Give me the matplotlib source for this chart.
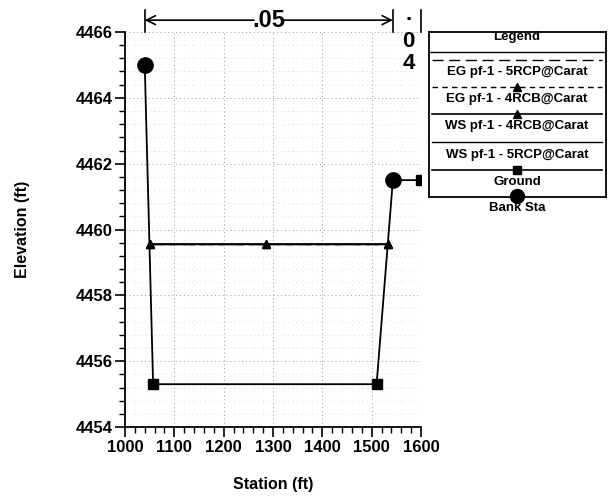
import matplotlib
matplotlib.use('Agg')
import matplotlib.pyplot as plt
import matplotlib.transforms as mtransforms

plt.rcParams['font.family'] = ['Liberation Sans', 'DejaVu Sans']
plt.rcParams['font.weight'] = 'bold'

# cross section data
ground_sta = [1040, 1057, 1510, 1543, 1600]
ground_elev = [4465.0, 4455.3, 4455.3, 4461.5, 4461.5]

bank_sta = [1040, 1543]
bank_elev = [4465.0, 4461.5]

ws_sta = [1051, 1286, 1534]
ws_4rcb = [4459.55, 4459.55, 4459.55]
ws_5rcp = [4459.55, 4459.55, 4459.55]
eg_4rcb = [4459.55, 4459.55, 4459.55]
eg_5rcp = [4459.55, 4459.55, 4459.55]

n_labels = ['.05', '.04']
n_breaks = [1040, 1543, 1600]

legend_labels = ['EG pf-1 - 5RCP@Carat', 'EG pf-1 - 4RCB@Carat', 'WS pf-1 - 4RCB@Carat',
                 'WS pf-1 - 5RCP@Carat', 'Ground', 'Bank Sta']

fig = plt.figure(figsize=(6.09, 5.04), dpi=100)
ax = fig.add_axes([125 / 609, 77 / 504, 296 / 609, 395 / 504])

ax.plot(ws_sta, eg_5rcp, color='black', lw=1.0, ls=(0, (8, 4)))
ax.plot(ws_sta, eg_4rcb, color='black', lw=1.0, ls=(0, (4, 3)), marker='^', ms=6)
ax.plot(ws_sta, ws_4rcb, color='black', lw=1.2, marker='^', ms=6)
ax.plot(ws_sta, ws_5rcp, color='black', lw=1.0)
ax.plot(ground_sta, ground_elev, color='black', lw=1.3, marker='s', ms=7)
ax.plot(bank_sta, bank_elev, ls='none', color='black', marker='o', ms=11)

ax.set_xlim(1000, 1600)
ax.set_ylim(4454, 4466)
ax.set_xticks(range(1000, 1601, 100))
ax.set_xticks(range(1000, 1601, 20), minor=True)
ax.set_yticks(range(4454, 4467, 2))
ax.set_yticks([4454 + 0.4 * i for i in range(31)], minor=True)
ax.tick_params(which='major', direction='out', length=7, width=1.2, labelsize=12, pad=2)
ax.tick_params(which='minor', direction='out', length=4, width=1.0)
for lab in ax.get_xticklabels() + ax.get_yticklabels():
    lab.set_fontweight('bold')

ax.grid(which='major', ls=(0, (1, 3)), lw=0.7, color='#999999')
ax.grid(which='minor', axis='y', ls=(0, (1, 5)), lw=0.5, color='#bbbbbb')
ax.grid(which='minor', axis='x', ls=(0, (1, 7)), lw=0.4, color='#cccccc')
ax.spines['top'].set_visible(False)
ax.spines['right'].set_visible(False)
ax.spines['left'].set_linewidth(1.3)
ax.spines['bottom'].set_linewidth(1.3)

ax.set_xlabel('Station (ft)', fontsize=11.5, fontweight='bold', labelpad=16)
ax.set_ylabel('Elevation (ft)', fontsize=11.5, fontweight='bold', labelpad=33)

# Manning's n annotation above the plot
trans = mtransforms.blended_transform_factory(ax.transData, ax.transAxes)
for x in n_breaks:
    ax.plot([x, x], [1.0, 1.055], color='black', lw=1.2, transform=trans, clip_on=False)
mid = (n_breaks[0] + n_breaks[1]) / 2
ax.text(mid, 1.03, n_labels[0], transform=trans, ha='center', va='center',
        fontsize=17, fontweight='bold')
arrow = dict(arrowstyle='->', lw=1.2, color='black', mutation_scale=16, shrinkA=0, shrinkB=0)
ax.annotate('', xy=(n_breaks[0], 1.03), xytext=(mid - 30, 1.03), xycoords=trans,
            textcoords=trans, arrowprops=arrow)
ax.annotate('', xy=(n_breaks[1], 1.03), xytext=(mid + 30, 1.03), xycoords=trans,
            textcoords=trans, arrowprops=arrow)
mid2 = (n_breaks[1] + n_breaks[2]) / 2 + 3
for ch, yy in zip(n_labels[1], [1.045, 0.975, 0.92]):
    ax.text(mid2, yy, ch, transform=trans, ha='center', va='center',
            fontsize=16, fontweight='bold')

# legend drawn as a separate box
lax = fig.add_axes([429 / 609, (504 - 197) / 504, 177 / 609, 165 / 504])
lax.set_xlim(0, 177)
lax.set_ylim(197, 32)
lax.set_xticks([])
lax.set_yticks([])
for s in lax.spines.values():
    s.set_linewidth(1.3)
lax.text(88, 37, 'Legend', ha='center', va='center', fontsize=9.5, fontweight='bold')
lax.plot([0, 177], [52, 52], color='black', lw=1.0)

line_y = [60, 87, 114, 142, 170]
label_y = [72, 99, 126, 155, 182]
styles = [dict(ls=(0, (8, 4)), lw=1.0),
          dict(ls=(0, (4, 3)), lw=1.0, marker='^', ms=6, markevery=[1]),
          dict(ls='-', lw=1.2, marker='^', ms=6, markevery=[1]),
          dict(ls='-', lw=1.0),
          dict(ls='-', lw=1.2, marker='s', ms=6, markevery=[1])]
for ly, ty, st, lab in zip(line_y, label_y, styles, legend_labels[:5]):
    lax.plot([3, 88, 173], [ly, ly, ly], color='black', **st)
    lax.text(88, ty, lab, ha='center', va='center', fontsize=9.5, fontweight='bold')
lax.plot([88], [196], ls='none', marker='o', ms=10, color='black', clip_on=False)
lax.text(88, 208, legend_labels[5], ha='center', va='center', fontsize=9.5,
         fontweight='bold', clip_on=False)

fig.savefig('out.png', dpi=100)
